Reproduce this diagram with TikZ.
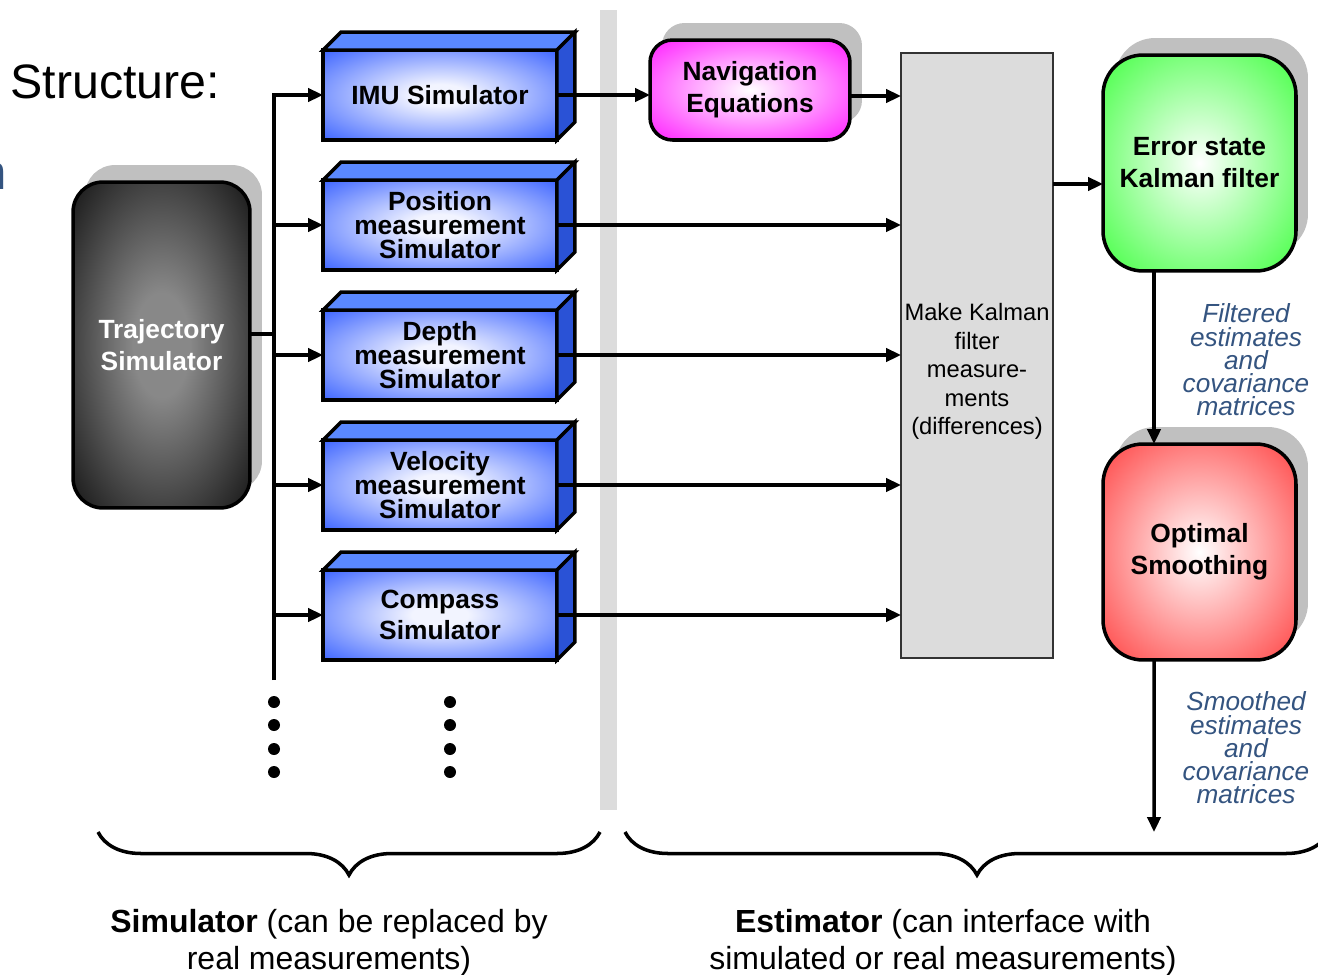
\documentclass[tikz,border=0pt]{standalone}
\usepackage{fontspec}
\setmainfont{Liberation Sans}
\def\px{0.02cm}
\usetikzlibrary{arrows.meta}
\usetikzlibrary{decorations.pathreplacing}
\usetikzlibrary{shadows}

\definecolor{shadowgray}{HTML}{C0C0C0}
\definecolor{bargray}{HTML}{DCDCDC}
\definecolor{noteblue}{RGB}{52,84,128}
\definecolor{cubefront}{HTML}{3A62FF}
\definecolor{cubeglow}{HTML}{F2F4FF}
\definecolor{cubetop}{HTML}{5A88FF}
\definecolor{cubeside}{HTML}{2A52D6}
\definecolor{trajin}{HTML}{888888}
\definecolor{trajout}{HTML}{0C0C0C}
\definecolor{navout}{HTML}{FF00FF}
\definecolor{kfout}{HTML}{22FF22}
\definecolor{smout}{HTML}{FF2222}

\pgfdeclareradialshading{glowcube}{\pgfpointorigin}{color(0bp)=(cubeglow); color(6bp)=(cubeglow); color(36bp)=(cubefront); color(80bp)=(cubefront)}
\pgfdeclareradialshading{glowtraj}{\pgfpointorigin}{color(0bp)=(trajin); color(8bp)=(trajin); color(38bp)=(trajout); color(80bp)=(trajout)}
\pgfdeclareradialshading{glownav}{\pgfpointorigin}{color(0bp)=(white); color(40bp)=(navout); color(80bp)=(navout)}
\pgfdeclareradialshading{glowkf}{\pgfpointorigin}{color(0bp)=(white); color(42bp)=(kfout); color(80bp)=(kfout)}
\pgfdeclareradialshading{glowsm}{\pgfpointorigin}{color(0bp)=(white); color(42bp)=(smout); color(80bp)=(smout)}

\begin{document}
\begin{tikzpicture}[x=\px, y=-\px, line width=2pt, >={Triangle[length=8.5pt,width=7.5pt]}]
		\tikzstyle{roundbox}=[draw=black, line width=2pt, inner sep=0pt, outer sep=0pt, align=center, font=\fontsize{15}{18.2}\selectfont\bfseries, drop shadow={shadow xshift=0.24cm, shadow yshift=0.34cm, fill=shadowgray, opacity=1}]
		\tikzstyle{cube}=[draw=black, shading=glowcube, minimum width=4.68cm, minimum height=1.8cm, inner sep=0pt, outer sep=0pt, align=center, font=\fontsize{15}{13.6}\selectfont\bfseries]
		\tikzstyle{note}=[text=noteblue, align=center, inner sep=0pt, font=\fontsize{14.9}{13.2}\selectfont\itshape]
		\tikzstyle{caption}=[align=center, inner sep=0pt, font=\fontsize{18.2}{21}\selectfont]
		\tikzstyle{brace}=[decorate, decoration={brace, amplitude=0.86cm}]
		
		\useasboundingbox (0,0) rectangle (1318,974);
		\clip (0,0) rectangle (1318,974);
		
		% Title and the cut letter at the left edge
		\node[anchor=base west, inner sep=0pt, font=\fontsize{27.5}{30}\selectfont] (title) at (9,98) {Structure:};
		\node[anchor=base east, inner sep=0pt, text=noteblue, font=\fontsize{28}{30}\selectfont] (cut) at (9,189) {n};
		
		% Separator between simulator and estimator
		\fill[bargray] (600,10) rectangle (617,810);
		
		% Trajectory simulator
		\node[roundbox, shading=glowtraj, text=white, rounded corners=0.6cm, minimum width=3.54cm, minimum height=6.52cm] (traj) at (161.5,345) {Trajectory\\Simulator};
		
		% Draw the measurement simulators
		\foreach \name/\y/\txt in {imu/95/{IMU Simulator}, pos/225/{Position\\measurement\\Simulator}, dep/355/{Depth\\measurement\\Simulator}, vel/485/{Velocity\\measurement\\Simulator}, com/615/{Compass\\[3pt]Simulator}}
		{
			\node[cube] (\name) at (440,\y) {\txt};
			\filldraw[fill=cubetop] (\name.north west) -- ++(18,-18) -- ++(234,0) -- (\name.north east) -- cycle;
			\filldraw[fill=cubeside] (\name.north east) -- ++(18,-18) -- ++(0,90) -- (\name.south east) -- cycle;
		}
		
		% Estimator blocks
		\node[roundbox, shading=glownav, rounded corners=0.45cm, minimum width=4cm, minimum height=2cm] (nav) at (750,90) {Navigation\\Equations};
		\node[draw=black!80, line width=0.8pt, fill=bargray, minimum width=3.04cm, minimum height=12.1cm, inner sep=0pt, outer sep=0pt] (mk) at (977,355.5) {};
		\node[align=center, inner sep=0pt, font=\fontsize{13.5}{16.2}\selectfont] (mktext) at ([yshift=-0.32cm]mk.center) {Make Kalman\\filter\\measure-\\ments\\(differences)};
		\node[roundbox, shading=glowkf, rounded corners=0.8cm, minimum width=3.86cm, minimum height=4.32cm] (kf) at (1199.5,163) {Error state\\Kalman filter};
		\node[roundbox, shading=glowsm, rounded corners=0.8cm, minimum width=3.86cm, minimum height=4.32cm] (sm) at (1199.5,552) {Optimal\\Smoothing};
		
		% Connect trajectory to the simulators
		\coordinate (bus) at (274,334);
		\coordinate (bustop) at (274,95);
		\coordinate (busend) at (274,680);
		\draw (traj.east |- bus) -- (bus);
		\draw[->] (busend) -- (bustop) -- (imu.west);
		\foreach \name in {pos,dep,vel,com}
		\draw[->] (\name.west -| bus) -- (\name.west);
		
		% Connect simulators to the estimator
		\draw[->] (imu.east) -- (imu.east -| nav.west);
		\draw[->] ([yshift=-0.12cm]nav.east) -- ([yshift=-0.12cm]nav.east -| mk.west);
		\foreach \name in {pos,dep,vel,com}
		\draw[->] (\name.east) -- (\name.east -| mk.west);
		\draw[->] (mk.east |- 0,184) -- (kf.west |- 0,184);
		\draw[->] ([xshift=-0.91cm]kf.south) -- ([xshift=-0.91cm]sm.north);
		\coordinate (out) at (1154,832);
		\draw[->] ([xshift=-0.91cm]sm.south) -- (out);
		
		% Annotate the outputs
		\node[note] (filtered) at (1246,360) {Filtered\\estimates\\and\\covariance\\matrices};
		\node[note] (smoothed) at (1246,748) {Smoothed\\estimates\\and\\covariance\\matrices};
		
		% More simulators
		\foreach \x in {274,450}
		\foreach \y in {702,725,749,772}
		\fill (\x,\y) circle[radius=6];
		
		% Braces and captions
		\draw[brace] (600,832) -- (98,832);
		\draw[brace] (1329,832) -- (625,832);
		\node[caption] (simcap) at (329,943) {\textbf{Simulator} (can be replaced by\\real measurements)};
		\node[caption] (estcap) at (943,943) {\textbf{Estimator} (can interface with\\simulated or real measurements)};
	
	\end{tikzpicture}
\end{document}
